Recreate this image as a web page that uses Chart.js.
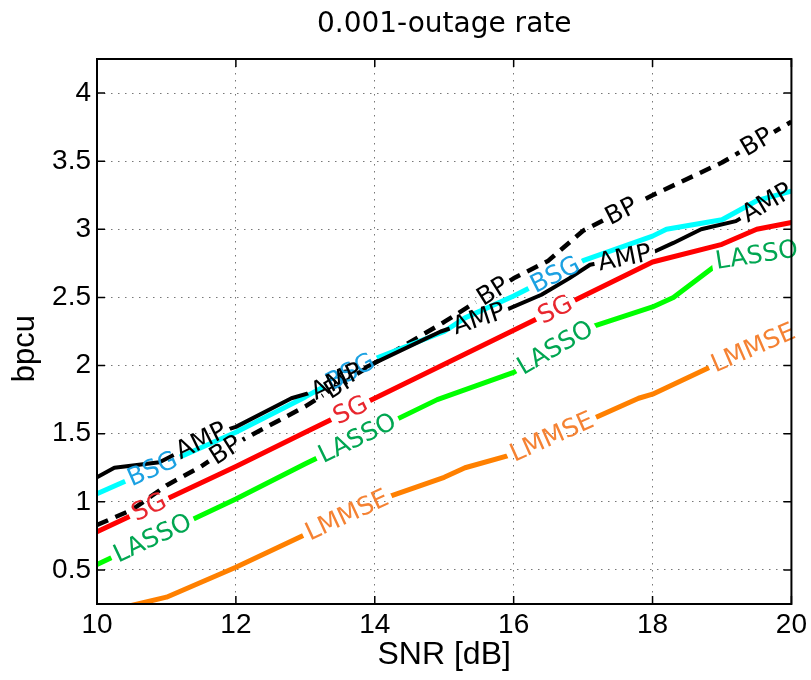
<!DOCTYPE html>
<html>
<head>
<meta charset="utf-8">
<script src="https://cdn.jsdelivr.net/npm/chart.js@4.4.0/dist/chart.umd.min.js"></script>
<style>
  html, body { margin: 0; padding: 0; background: #fff; }
  #wrap { width: 811px; height: 680px; }
</style>
</head>
<body>
<div id="wrap"><canvas id="chart" width="811" height="680"></canvas></div>
<script>
// values (SNR in dB, rate in bpcu)
const ampX = [10, 10.25, 10.9, 11.7, 12, 12.8, 13.2, 14, 14.95, 15.9, 16.4, 16.8, 17.1, 18, 18.3, 18.7, 19.2, 20];
const ampY = [1.18, 1.25, 1.29, 1.50, 1.55, 1.76, 1.82, 2.02, 2.25, 2.41, 2.52, 2.64, 2.74, 2.83, 2.90, 3.00, 3.06, 3.30];
const bsgX = [10, 12, 13, 14, 15, 15.3, 16, 17, 18, 18.2, 19, 19.5, 20];
const bsgY = [1.06, 1.51, 1.77, 2.05, 2.25, 2.35, 2.51, 2.77, 2.95, 3.00, 3.07, 3.21, 3.28];
const bpX = [10, 10.5, 11, 11.5, 12, 13, 14, 15, 16, 16.5, 17, 18, 19, 20];
const bpY = [0.83, 0.94, 1.12, 1.26, 1.43, 1.70, 2.02, 2.32, 2.64, 2.77, 2.99, 3.25, 3.49, 3.79];
const sgX = [10, 12, 13, 16, 18, 19, 19.5, 20];
const sgY = [0.78, 1.26, 1.51, 2.26, 2.76, 2.89, 3.00, 3.05];
const lassoX = [10, 12, 13, 14.9, 16, 17.1, 18, 18.3, 19, 20];
const lassoY = [0.54, 1.02, 1.28, 1.75, 1.95, 2.28, 2.43, 2.50, 2.77, 2.85];
const lmmseX = [10, 11, 12, 13, 14.1, 15, 15.3, 16, 17.8, 18, 19, 20];
const lmmseY = [0.18, 0.30, 0.52, 0.76, 1.02, 1.18, 1.25, 1.35, 1.76, 1.79, 2.03, 2.25];

// where the inline labels sit along each curve (SNR)
const ampLabels = [11.5, 13.45, 15.5, 17.6, 19.65];
const bsgLabels = [10.8, 13.65, 16.6];
const bpLabels = [11.85, 13.5, 15.7, 17.55, 19.5];
const sgLabels = [10.75, 13.65, 16.6];
const lassoLabels = [10.8, 13.75, 16.6, 19.5];
const lmmseLabels = [13.6, 16.55, 19.45];

const xTicks = [10, 12, 14, 16, 18, 20];
const xTickLabels = ['10', '12', '14', '16', '18', '20'];
const yTicks = [0.5, 1, 1.5, 2, 2.5, 3, 3.5, 4];
const yTickLabels = ['0.5', '1', '1.5', '2', '2.5', '3', '3.5', '4'];

const series = [
  { name: 'AMP', xs: ampX, ys: ampY, line: '#000000', text: '#000000', width: 4, dash: [], at: ampLabels },
  { name: 'BSG', xs: bsgX, ys: bsgY, line: '#00ffff', text: '#1ba1e2', width: 5, dash: [], at: bsgLabels },
  { name: 'BP', xs: bpX, ys: bpY, line: '#000000', text: '#000000', width: 4.5, dash: [12, 8], at: bpLabels },
  { name: 'SG', xs: sgX, ys: sgY, line: '#ff0000', text: '#e8262e', width: 5, dash: [], at: sgLabels },
  { name: 'LASSO', xs: lassoX, ys: lassoY, line: '#00ff00', text: '#00a651', width: 5, dash: [], at: lassoLabels },
  { name: 'LMMSE', xs: lmmseX, ys: lmmseY, line: '#ff8000', text: '#f58233', width: 5, dash: [], at: lmmseLabels }
];

const labelFont = '25px "DejaVu Sans"';

function interp(xs, ys, x) {
  for (let i = 1; i < xs.length; i++) {
    if (x <= xs[i]) {
      const t = (x - xs[i - 1]) / (xs[i] - xs[i - 1]);
      return ys[i - 1] + t * (ys[i] - ys[i - 1]);
    }
  }
  return ys[ys.length - 1];
}

// label boxes in pixels, oriented along the curve
function labelBoxes(chart, s) {
  const sx = chart.scales.x, sy = chart.scales.y, ctx = chart.ctx;
  ctx.save();
  ctx.font = labelFont;
  const w = ctx.measureText(s.name).width;
  ctx.restore();
  return s.at.map(v => {
    const a = Math.max(10, v - 0.25), b = Math.min(20, v + 0.25);
    const x0 = sx.getPixelForValue(a), y0 = sy.getPixelForValue(interp(s.xs, s.ys, a));
    const x1 = sx.getPixelForValue(b), y1 = sy.getPixelForValue(interp(s.xs, s.ys, b));
    return {
      cx: sx.getPixelForValue(v),
      cy: sy.getPixelForValue(interp(s.xs, s.ys, v)),
      ang: Math.atan2(y1 - y0, x1 - x0),
      w: w, h: 22
    };
  });
}

const inlineLabels = {
  id: 'inlineLabels',
  beforeDatasetDraw(chart, args) {
    const s = series[args.index];
    const ctx = chart.ctx;
    ctx.save();
    ctx.beginPath();
    ctx.rect(0, 0, chart.width, chart.height);
    labelBoxes(chart, s).forEach(bx => {
      const c = Math.cos(bx.ang), sn = Math.sin(bx.ang);
      const hw = bx.w / 2 + 4, hh = bx.h / 2;
      const pts = [[-hw, -hh], [hw, -hh], [hw, hh], [-hw, hh]].map(([px, py]) =>
        [bx.cx + px * c - py * sn, bx.cy + px * sn + py * c]);
      ctx.moveTo(pts[0][0], pts[0][1]);
      for (let i = 1; i < 4; i++) ctx.lineTo(pts[i][0], pts[i][1]);
      ctx.closePath();
    });
    ctx.clip('evenodd');
  },
  afterDatasetDraw(chart) {
    chart.ctx.restore();
  },
  afterDatasetsDraw(chart) {
    const ctx = chart.ctx;
    series.slice().reverse().forEach(s => {
      labelBoxes(chart, s).forEach(bx => {
        ctx.save();
        ctx.translate(bx.cx, bx.cy);
        ctx.rotate(bx.ang);
        ctx.font = labelFont;
        ctx.fillStyle = s.text;
        ctx.textAlign = 'center';
        ctx.textBaseline = 'middle';
        ctx.fillText(s.name, 0, 1);
        ctx.restore();
      });
    });
  },
  afterDraw(chart) {
    const ctx = chart.ctx, a = chart.chartArea;
    const sx = chart.scales.x, sy = chart.scales.y;
    ctx.save();
    ctx.strokeStyle = '#000';
    ctx.lineWidth = 1.5;
    ctx.beginPath();
    xTicks.forEach(v => {
      const px = sx.getPixelForValue(v);
      ctx.moveTo(px, a.bottom); ctx.lineTo(px, a.bottom - 8);
      ctx.moveTo(px, a.top); ctx.lineTo(px, a.top + 8);
    });
    yTicks.forEach(v => {
      const py = sy.getPixelForValue(v);
      ctx.moveTo(a.left, py); ctx.lineTo(a.left + 8, py);
      ctx.moveTo(a.right, py); ctx.lineTo(a.right - 8, py);
    });
    ctx.stroke();
    ctx.lineWidth = 2;
    ctx.strokeRect(a.left, a.top, a.right - a.left, a.bottom - a.top);
    ctx.restore();
  }
};

const tickFont = { family: '"Liberation Sans", Arial, sans-serif', size: 28 };
const gridStyle = { color: '#777', lineWidth: 1, drawTicks: false };

new Chart(document.getElementById('chart').getContext('2d'), {
  type: 'line',
  data: {
    datasets: series.map(s => ({
      label: s.name,
      data: s.xs.map((x, i) => ({ x: x, y: s.ys[i] })),
      borderColor: s.line,
      borderWidth: s.width,
      borderDash: s.dash,
      borderJoinStyle: 'round',
      pointRadius: 0,
      tension: 0,
      fill: false
    }))
  },
  options: {
    responsive: false,
    animation: false,
    layout: { padding: { left: 0, right: 19, top: 0, bottom: 0 } },
    plugins: {
      legend: { display: false },
      tooltip: { enabled: false },
      title: {
        display: true,
        fullSize: false,
        text: '0.001-outage rate',
        color: '#000',
        font: { family: '"DejaVu Sans"', size: 28, weight: 'normal', lineHeight: 1.2 },
        padding: { top: 8, bottom: 17.4 }
      }
    },
    scales: {
      x: {
        type: 'linear',
        min: 10,
        max: 20,
        afterBuildTicks: sc => { sc.ticks = xTicks.map(v => ({ value: v })); },
        afterFit: sc => { sc.height = 76; },
        grid: gridStyle,
        border: { display: false, dash: [1.5, 5.5] },
        ticks: {
          font: tickFont,
          color: '#000',
          padding: 4,
          maxRotation: 0,
          callback: (v) => xTickLabels[xTicks.indexOf(v)]
        },
        title: {
          display: true,
          text: 'SNR [dB]',
          color: '#000',
          font: { family: '"Liberation Sans", Arial, sans-serif', size: 32, lineHeight: 1.2 },
          padding: { top: 0, bottom: 5.8 }
        }
      },
      y: {
        type: 'linear',
        min: 0.25,
        max: 4.25,
        afterBuildTicks: sc => { sc.ticks = yTicks.map(v => ({ value: v })); },
        afterFit: sc => { sc.width = 97; },
        grid: gridStyle,
        border: { display: false, dash: [1.5, 5.5] },
        ticks: {
          font: tickFont,
          color: '#000',
          padding: 6,
          callback: (v) => yTickLabels[yTicks.indexOf(v)]
        },
        title: {
          display: true,
          text: 'bpcu    ',
          color: '#000',
          font: { family: '"Liberation Sans", Arial, sans-serif', size: 31, lineHeight: 1.2 },
          padding: { top: 6.4, bottom: 0 }
        }
      }
    }
  },
  plugins: [inlineLabels]
});
</script>
</body>
</html>
